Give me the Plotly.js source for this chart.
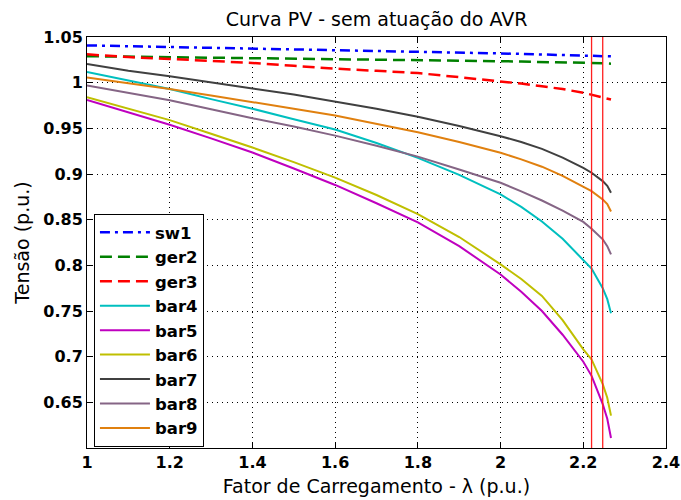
<!DOCTYPE html>
<html>
<head>
<meta charset="utf-8">
<script src="https://cdn.plot.ly/plotly-3.0.1.min.js"></script>
<style>html,body{margin:0;padding:0;background:#fff;}#chart{width:681px;height:500px;}</style>
</head>
<body>
<div id="chart"></div>
<script>
// Loading factor (x)
const lambda = [1.0, 1.1, 1.2, 1.3, 1.4, 1.5, 1.6, 1.7, 1.8, 1.9, 2.0, 2.05, 2.1, 2.15, 2.2, 2.22, 2.247, 2.258, 2.267];

// Bus voltages (p.u.)
const sw1  = [1.0408, 1.0400, 1.0390, 1.0380, 1.0370, 1.0365, 1.0360, 1.0350, 1.0340, 1.0330, 1.0320, 1.0315, 1.0310, 1.0305, 1.0300, 1.0297, 1.0290, 1.0289, 1.0288];
const ger2 = [1.0290, 1.0285, 1.0280, 1.0275, 1.0270, 1.0267, 1.0263, 1.0257, 1.0250, 1.0243, 1.0235, 1.0231, 1.0228, 1.0225, 1.0222, 1.0220, 1.0213, 1.0210, 1.0208];
const ger3 = [1.0310, 1.0280, 1.0260, 1.0240, 1.0216, 1.0185, 1.0153, 1.0130, 1.0105, 1.0060, 1.0015, 0.9990, 0.9960, 0.9930, 0.9890, 0.9870, 0.9840, 0.9830, 0.9815];
const bar4 = [1.0118, 1.0025, 0.9930, 0.9820, 0.9715, 0.9600, 0.9487, 0.9340, 0.9177, 0.8990, 0.8776, 0.8640, 0.8480, 0.8290, 0.8066, 0.7965, 0.7750, 0.7630, 0.7475];
const bar5 = [0.9810, 0.9675, 0.9540, 0.9390, 0.9235, 0.9060, 0.8880, 0.8680, 0.8470, 0.8210, 0.7900, 0.7710, 0.7500, 0.7240, 0.6945, 0.6790, 0.6480, 0.6320, 0.6110];
const bar6 = [0.9840, 0.9715, 0.9590, 0.9440, 0.9290, 0.9130, 0.8960, 0.8770, 0.8560, 0.8310, 0.8011, 0.7850, 0.7665, 0.7400, 0.7080, 0.6970, 0.6700, 0.6550, 0.6354];
const bar7 = [1.0205, 1.0130, 1.0070, 1.0000, 0.9935, 0.9870, 0.9796, 0.9715, 0.9626, 0.9525, 0.9414, 0.9350, 0.9275, 0.9180, 0.9068, 0.9014, 0.8922, 0.8870, 0.8795];
const bar8 = [0.9968, 0.9890, 0.9807, 0.9710, 0.9610, 0.9520, 0.9420, 0.9310, 0.9190, 0.9050, 0.8904, 0.8810, 0.8710, 0.8600, 0.8475, 0.8400, 0.8285, 0.8210, 0.8120];
const bar9 = [1.0058, 0.9995, 0.9930, 0.9860, 0.9790, 0.9715, 0.9640, 0.9550, 0.9457, 0.9350, 0.9232, 0.9160, 0.9080, 0.8980, 0.8867, 0.8813, 0.8722, 0.8670, 0.8590];

// Vertical markers (lambda values)
const markerLambda = [2.22, 2.247];

// Tick labels
const xTickVals = [1, 1.2, 1.4, 1.6, 1.8, 2, 2.2, 2.4];
const xTickText = ['1', '1.2', '1.4', '1.6', '1.8', '2', '2.2', '2.4'];
const yTickVals = [0.65, 0.7, 0.75, 0.8, 0.85, 0.9, 0.95, 1, 1.05];
const yTickText = ['0.65', '0.7', '0.75', '0.8', '0.85', '0.9', '0.95', '1', '1.05'];

const seriesNames = ['sw1', 'ger2', 'ger3', 'bar4', 'bar5', 'bar6', 'bar7', 'bar8', 'bar9'];
const seriesData = [sw1, ger2, ger3, bar4, bar5, bar6, bar7, bar8, bar9];
const styles = [
  {color: '#0000FF', width: 2.5, dash: '10px,5px,3px,5px'},
  {color: '#008000', width: 2.5, dash: '12px,6px'},
  {color: '#FF0000', width: 2.5, dash: '12px,6px'},
  {color: '#00BFBF', width: 2, dash: 'solid'},
  {color: '#BF00BF', width: 2, dash: 'solid'},
  {color: '#BFBF00', width: 2, dash: 'solid'},
  {color: '#404040', width: 2, dash: 'solid'},
  {color: '#856585', width: 2, dash: 'solid'},
  {color: '#E0800F', width: 2, dash: 'solid'}
];

const traces = seriesNames.map((n, i) => ({
  x: lambda, y: seriesData[i], name: n, type: 'scatter', mode: 'lines',
  line: styles[i]
}));

const font = 'DejaVu Sans, Arial, sans-serif';
const shapes = markerLambda.map(v => ({
  type: 'line', xref: 'x', yref: 'paper', x0: v, x1: v, y0: 0, y1: 1,
  line: {color: '#FF2020', width: 1.3}
}));

const axisCommon = {
  showline: true, linecolor: '#000', linewidth: 1, mirror: 'ticks',
  ticks: 'inside', ticklen: 5, tickcolor: '#000',
  showgrid: true, gridcolor: '#000', gridwidth: 1, griddash: '1px,4px',
  zeroline: false,
  tickfont: {family: font, size: 16, color: '#000', weight: 'bold'}
};

const layout = {
  width: 681, height: 500,
  margin: {l: 87, r: 15, t: 37, b: 52},
  paper_bgcolor: '#fff', plot_bgcolor: '#fff',
  title: {text: 'Curva PV - sem atuação do AVR', font: {family: font, size: 19, color: '#000'},
          x: 0.553, xanchor: 'center', y: 0.962, yanchor: 'middle'},
  xaxis: Object.assign({}, axisCommon, {
    range: [1, 2.4], tickvals: xTickVals, ticktext: xTickText,
    title: {text: 'Fator de Carregamento - λ (p.u.)', font: {family: font, size: 19, color: '#000'}, standoff: 8}
  }),
  yaxis: Object.assign({}, axisCommon, {
    range: [0.6, 1.05], tickvals: yTickVals, ticktext: yTickText,
    title: {text: 'Tensão (p.u.)', font: {family: font, size: 19, color: '#000'}, standoff: 8}
  }),
  shapes: shapes,
  showlegend: true,
  legend: {
    x: 0.012, y: 0.569, xanchor: 'left', yanchor: 'top',
    bgcolor: '#fff', bordercolor: '#000', borderwidth: 1,
    font: {family: font, size: 16.5, color: '#000', weight: 'bold'},
    itemwidth: 50,
    tracegroupgap: 0
  }
};

Plotly.newPlot('chart', traces, layout, {displayModeBar: false, staticPlot: true});
</script>
</body>
</html>
